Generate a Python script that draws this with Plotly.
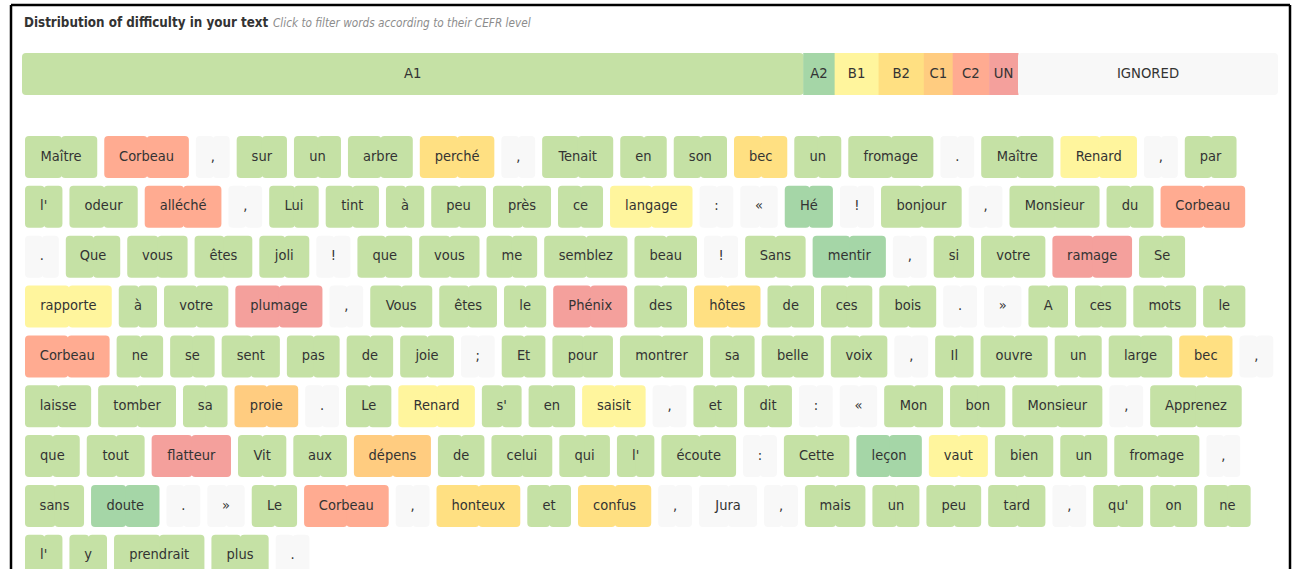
import plotly.graph_objects as go

# ---------------- data ----------------
TITLE = "Distribution of difficulty in your text"
SUBTITLE = "Click to filter words according to their CEFR level"

dist_labels = ["A1", "A2", "B1", "B2", "C1", "C2", "UN", "IGNORED"]
dist_share = [62.2, 2.5, 3.5, 3.6, 2.3, 2.9, 2.3, 20.7]   # % of the bar width

level_colors = {
    "A1": "#C5E1A5", "A2": "#A5D6A7", "B1": "#FFF59D", "B2": "#FFE082",
    "C1": "#FFCC80", "C2": "#FFAB91", "UN": "#F4A09C", "IGNORED": "#F8F8F8",
}

words = [
    "Maître", "Corbeau", ",", "sur", "un", "arbre", "perché", ",", "Tenait", "en", "son", "bec", "un", "fromage", ".", "Maître", "Renard", ",", "par",
    "l'", "odeur", "alléché", ",", "Lui", "tint", "à", "peu", "près", "ce", "langage", ":", "«", "Hé", "!", "bonjour", ",", "Monsieur", "du", "Corbeau",
    ".", "Que", "vous", "êtes", "joli", "!", "que", "vous", "me", "semblez", "beau", "!", "Sans", "mentir", ",", "si", "votre", "ramage", "Se",
    "rapporte", "à", "votre", "plumage", ",", "Vous", "êtes", "le", "Phénix", "des", "hôtes", "de", "ces", "bois", ".", "»", "A", "ces", "mots", "le",
    "Corbeau", "ne", "se", "sent", "pas", "de", "joie", ";", "Et", "pour", "montrer", "sa", "belle", "voix", ",", "Il", "ouvre", "un", "large", "bec", ",",
    "laisse", "tomber", "sa", "proie", ".", "Le", "Renard", "s'", "en", "saisit", ",", "et", "dit", ":", "«", "Mon", "bon", "Monsieur", ",", "Apprenez",
    "que", "tout", "flatteur", "Vit", "aux", "dépens", "de", "celui", "qui", "l'", "écoute", ":", "Cette", "leçon", "vaut", "bien", "un", "fromage", ",",
    "sans", "doute", ".", "»", "Le", "Corbeau", ",", "honteux", "et", "confus", ",", "Jura", ",", "mais", "un", "peu", "tard", ",", "qu'", "on", "ne",
    "l'", "y", "prendrait", "plus", ".",
]

IG = "IGNORED"
word_levels = [
    "A1", "C2", IG, "A1", "A1", "A1", "B2", IG, "A1", "A1", "A1", "B2", "A1", "A1", IG, "A1", "B1", IG, "A1",
    "A1", "A1", "C2", IG, "A1", "A1", "A1", "A1", "A1", "A1", "B1", IG, IG, "A2", IG, "A1", IG, "A1", "A1", "C2",
    IG, "A1", "A1", "A1", "A1", IG, "A1", "A1", "A1", "A1", "A1", IG, "A1", "A2", IG, "A1", "A1", "UN", "A1",
    "B1", "A1", "A1", "UN", IG, "A1", "A1", "A1", "UN", "A1", "B2", "A1", "A1", "A1", IG, IG, "A1", "A1", "A1", "A1",
    "C2", "A1", "A1", "A1", "A1", "A1", "A1", IG, "A1", "A1", "A1", "A1", "A1", "A1", IG, "A1", "A1", "A1", "A1", "B2", IG,
    "A1", "A1", "A1", "C1", IG, "A1", "B1", "A1", "A1", "B1", IG, "A1", "A1", IG, IG, "A1", "A1", "A1", IG, "A1",
    "A1", "A1", "UN", "A1", "A1", "C1", "A1", "A1", "A1", "A1", "A1", IG, "A1", "A2", "B1", "A1", "A1", "A1", IG,
    "A1", "A2", IG, IG, "A1", "C2", IG, "B2", "A1", "B2", IG, IG, IG, "A1", "A1", "A1", "A1", IG, "A1", "A1", "A1",
    "A1", "A1", "A1", "A1", IG,
]

# ---------------- layout helpers ----------------
FONT = "DejaVu Sans Condensed, Liberation Sans Narrow, Roboto, sans-serif"
TEXT_COLOR = "#333333"

# approximate advance widths (em) of a condensed UI font, used to size the tiles
CHAR_EM = {
    "a": .47, "b": .50, "c": .41, "d": .50, "e": .47, "f": .30, "g": .50, "h": .50, "i": .22, "j": .22,
    "k": .44, "l": .24, "m": .75, "n": .50, "o": .50, "p": .50, "q": .50, "r": .32, "s": .38, "t": .33,
    "u": .50, "v": .43, "w": .66, "x": .43, "y": .43, "z": .39,
    "A": .55, "C": .52, "E": .47, "H": .60, "I": .24, "J": .38, "L": .43, "M": .72, "P": .52, "R": .53,
    "S": .47, "T": .47, "V": .53, "'": .18, ",": .20, ".": .20, ":": .20, ";": .20, "!": .22, "«": .42, "»": .42,
}
BASE = {"à": "a", "â": "a", "é": "e", "è": "e", "ê": "e", "î": "i", "ô": "o", "ç": "c", "û": "u"}


def text_width(s, size=16.5):
    return sum(CHAR_EM.get(BASE.get(ch, ch), .48) for ch in s) * size


PAD = 30.5
GAP = 7.0
LEFT, RIGHT = 25.0, 1275.0
ROW0, ROW_PITCH, TILE_H = 157.0, 49.85, 42.0

centers, rows_y, widths, colors = [], [], [], []
x, row = LEFT, 0
for w_txt, lvl in zip(words, word_levels):
    w = text_width(w_txt) + PAD
    if x + w > RIGHT and x > LEFT:
        row += 1
        x = LEFT
    centers.append(x + w / 2)
    rows_y.append(ROW0 + row * ROW_PITCH)
    widths.append(w)
    colors.append(level_colors[lvl])
    x += w + GAP

fig = go.Figure()

# tiles: drawn as two half bars from the centre, so both ends get rounded corners
fig.add_trace(go.Bar(
    orientation="h", y=rows_y, base=[c + 1 for c in centers], x=[-(w / 2 + 1) for w in widths],
    width=TILE_H, marker=dict(color=colors, line=dict(width=0), cornerradius=4),
    hoverinfo="skip", showlegend=False))
fig.add_trace(go.Bar(
    orientation="h", y=rows_y, base=centers, x=[w / 2 for w in widths],
    width=TILE_H, marker=dict(color=colors, line=dict(width=0), cornerradius=4),
    hoverinfo="skip", showlegend=False))
fig.add_trace(go.Scatter(
    x=centers, y=rows_y, text=words, mode="text", cliponaxis=False,
    textfont=dict(family=FONT, size=14.5, color=TEXT_COLOR), hoverinfo="skip", showlegend=False))

# distribution bar
BAR_X0, BAR_W, BAR_Y = 22.0, 1256.0, 74.0
seg_w = [s / sum(dist_share) * BAR_W for s in dist_share]
seg_x0 = [BAR_X0 + sum(seg_w[:i]) for i in range(len(seg_w))]
seg_col = [level_colors[l] for l in dist_labels]
n = len(dist_labels)
# first segment (rounded on its left end)
fig.add_trace(go.Bar(
    orientation="h", y=[BAR_Y], base=[seg_x0[0] + seg_w[0] + 0.5], x=[-(seg_w[0] + 0.5)],
    width=TILE_H, marker=dict(color=seg_col[0], line=dict(width=0), cornerradius=4),
    hoverinfo="skip", showlegend=False))
# middle segments
fig.add_trace(go.Bar(
    orientation="h", y=[BAR_Y] * (n - 2), base=seg_x0[1:-1], x=[w + 0.5 for w in seg_w[1:-1]],
    width=TILE_H, marker=dict(color=seg_col[1:-1], line=dict(width=0), cornerradius=0),
    hoverinfo="skip", showlegend=False))
# last segment (rounded on its right end)
fig.add_trace(go.Bar(
    orientation="h", y=[BAR_Y], base=[seg_x0[-1]], x=[seg_w[-1]],
    width=TILE_H, marker=dict(color=seg_col[-1], line=dict(width=0), cornerradius=4),
    hoverinfo="skip", showlegend=False))
fig.add_trace(go.Scatter(
    x=[x0 + w / 2 for x0, w in zip(seg_x0, seg_w)], y=[BAR_Y] * n, text=dist_labels,
    mode="text", cliponaxis=False,
    textfont=dict(family=FONT, size=14.7, color=TEXT_COLOR), hoverinfo="skip", showlegend=False))

fig.add_annotation(x=22, y=22, xref="x", yref="y", xanchor="left", yanchor="middle", showarrow=False,
                   text="<b>" + TITLE + "</b>", font=dict(family=FONT, size=13.3, color="#333333"))
fig.add_annotation(x=271, y=23, xref="x", yref="y", xanchor="left", yanchor="middle", showarrow=False,
                   text="<i>" + SUBTITLE + "</i>", font=dict(family=FONT, size=11.7, color="#8c8c8c"))

# outer frame of the widget (open at the bottom, where the window cuts it)
for x0, y0, x1, y1 in [(11, 5, 1290, 5), (11, 5, 11, 569), (1290, 5, 1290, 569)]:
    fig.add_shape(type="line", xref="x", yref="y", x0=x0, y0=y0, x1=x1, y1=y1,
                  line=dict(color="black", width=2.5), layer="above")

# axes in window pixels: data units equal screen pixels
fig.update_layout(
    width=1297, height=569, margin=dict(l=0, r=0, t=0, b=0),
    paper_bgcolor="white", plot_bgcolor="white", barmode="overlay", showlegend=False,
    xaxis=dict(range=[0, 1297], visible=False, fixedrange=True),
    yaxis=dict(range=[569, 0], visible=False, fixedrange=True),
)

fig.write_html("out.html", config={"displayModeBar": False},
               post_script="document.body.style.margin='0';document.body.style.overflow='hidden';")
